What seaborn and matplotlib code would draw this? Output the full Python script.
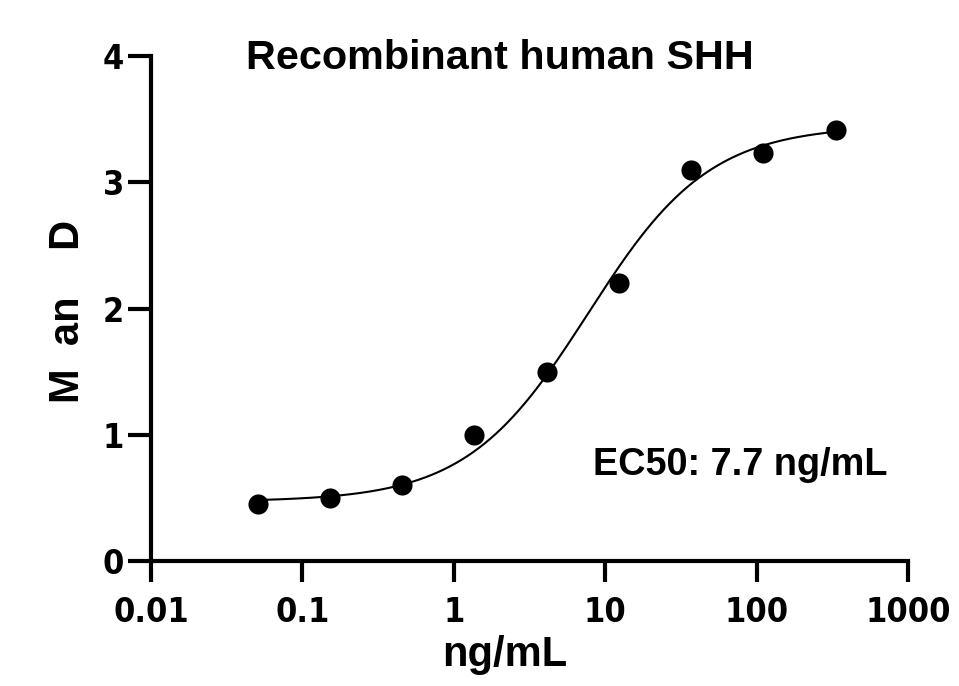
import numpy as np
import pandas as pd
import matplotlib
matplotlib.use("Agg")
import matplotlib.pyplot as plt
import seaborn as sns
from matplotlib import font_manager

# data
conc = [0.0508, 0.152, 0.457, 1.37, 4.11, 12.3, 37.0, 111.0, 333.0]
mean_od = [0.45, 0.50, 0.60, 1.00, 1.50, 2.20, 3.10, 3.23, 3.41]
# 4PL fit parameters
fit_bottom = 0.47
fit_top = 3.45
fit_ec50 = 7.7
fit_hill = 1.08
xticks = [0.01, 0.1, 1, 10, 100, 1000]
xtick_labels = ["0.01", "0.1", "1", "10", "100", "1000"]
yticks = [0, 1, 2, 3, 4]

sns.set_theme(style="ticks")
plt.rcParams["font.family"] = ["Liberation Sans", "DejaVu Sans"]

# look for a condensed bold face for tick labels
tick_family = None
tick_stretch = "normal"
tick_size = 25
for f in font_manager.fontManager.ttflist:
    if f.name in ("Liberation Sans Narrow", "Arial Narrow"):
        tick_family, tick_stretch, tick_size = f.name, "normal", 27
        break
if tick_family is None:
    for f in font_manager.fontManager.ttflist:
        if f.name == "DejaVu Sans" and str(f.stretch) in ("condensed", "semi-condensed") and f.weight in ("bold", 700):
            tick_family, tick_stretch, tick_size = "DejaVu Sans", "condensed", 24.5
            break
if tick_family is None:
    tick_family, tick_stretch, tick_size = "Liberation Sans", "normal", 25

fig = plt.figure(figsize=(9.59, 6.86), dpi=100)
ax = fig.add_axes([151/959, 1-561/686, (908-151)/959, (561-56)/686])

df = pd.DataFrame({"conc": conc, "od": mean_od})
xs = np.logspace(np.log10(conc[0]), np.log10(conc[-1]), 300)
ys = fit_bottom + (fit_top - fit_bottom) / (1 + (fit_ec50 / xs) ** fit_hill)
sns.lineplot(x=xs, y=ys, ax=ax, color="black", linewidth=1.5, zorder=2)
sns.scatterplot(data=df, x="conc", y="od", ax=ax, color="black", s=210,
                edgecolor="black", linewidth=0, zorder=3, clip_on=False)

ax.set_xscale("log")
ax.set_xlim(0.01, 1000)
ax.set_ylim(0, 4)
ax.set_xticks(xticks)
ax.set_xticklabels(xtick_labels)
ax.minorticks_off()
ax.set_yticks(yticks)
ax.set_xlabel("")
ax.set_ylabel("")
for s in ["top", "right"]:
    ax.spines[s].set_visible(False)
for s in ["left", "bottom"]:
    ax.spines[s].set_linewidth(3)
    ax.spines[s].set_color("black")
ax.tick_params(axis="x", length=15, width=3, pad=10, color="black")
ax.tick_params(axis="y", length=16.5, width=3, pad=3, color="black")
for lab in ax.get_xticklabels() + ax.get_yticklabels():
    lab.set_fontfamily([tick_family, "DejaVu Sans"])
    lab.set_fontstretch(tick_stretch)
    lab.set_fontweight("bold")
    lab.set_fontsize(tick_size)
    lab.set_color("black")

fig.text(500/959, 1-58/686, "Recombinant human SHH", ha="center", va="center",
         fontsize=29.8, fontweight="bold", color="black")
fig.text(505/959, 1-655/686, "ng/mL", ha="center", va="center",
         fontsize=30, fontweight="bold", color="black")
fig.text(68/959, 1-311/686, "M  an    D", ha="center", va="center", rotation=90,
         fontsize=30, fontweight="bold", color="black")
fig.text(593/959, 1-465/686, "EC50: 7.7 ng/mL", ha="left", va="center",
         fontsize=27.3, fontweight="bold", color="black")

fig.savefig("out.png", dpi=100)
